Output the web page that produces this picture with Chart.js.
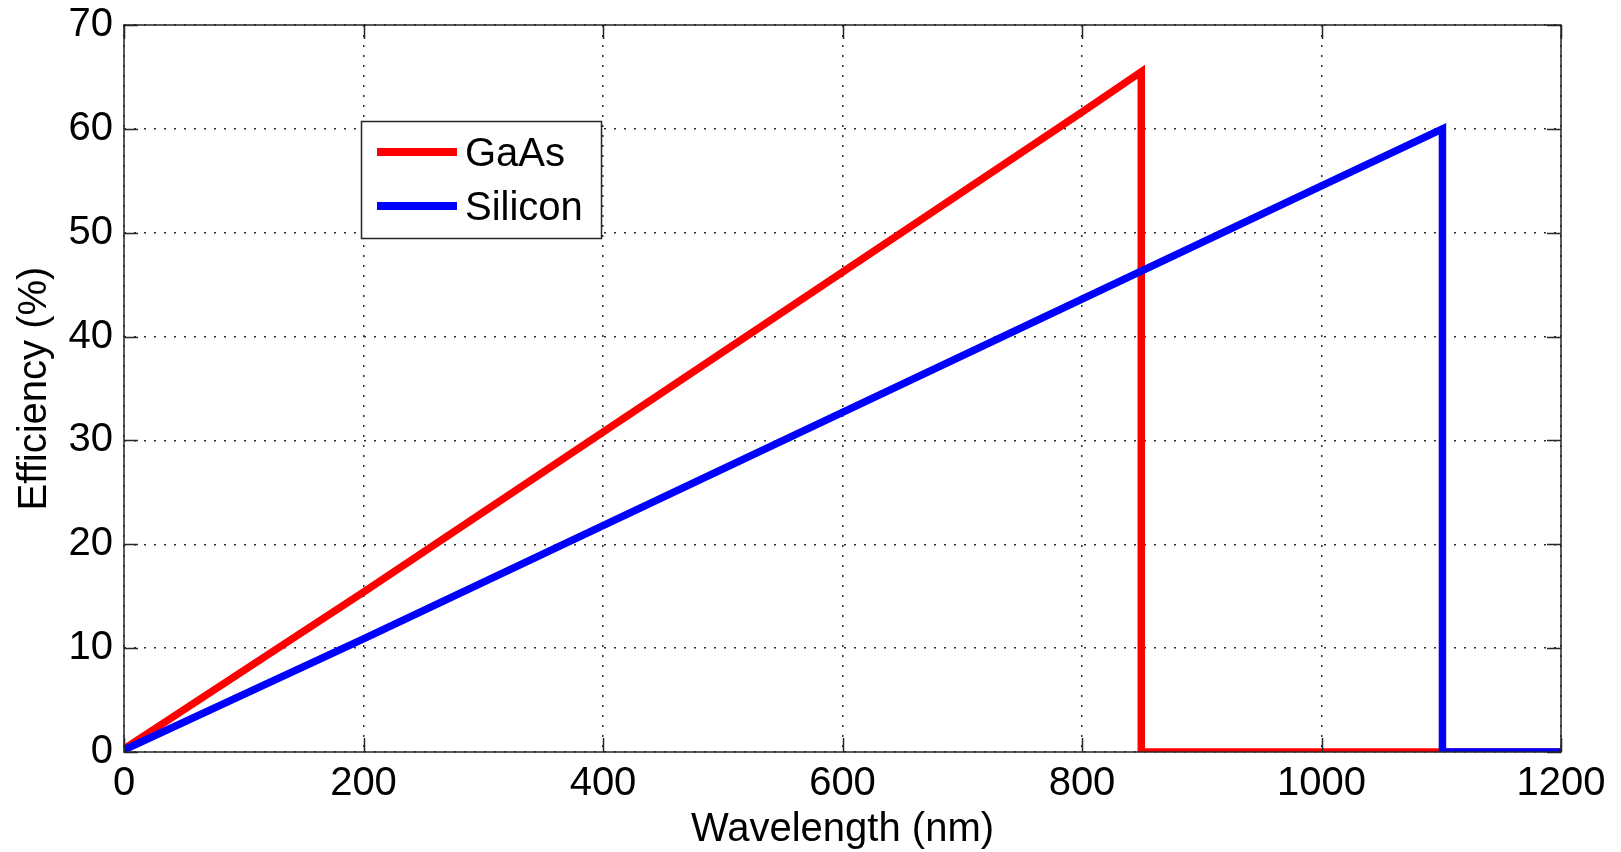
<!DOCTYPE html>
<html><head><meta charset="utf-8">
<script src="https://cdn.jsdelivr.net/npm/chart.js@4/dist/chart.umd.min.js"></script>
<style>html,body{margin:0;padding:0;background:#fff;}canvas{display:block;}</style>
</head><body>
<canvas id="c" width="1621" height="852"></canvas>
<script>
// ---- data ----
const seriesNames = ['GaAs', 'Silicon'];
const gaasWavelength = [0, 200, 400, 600, 800, 849.5, 849.5, 1200];
const gaasEfficiency = [0.3, 15.4, 30.8, 46.2, 61.6, 65.5, 0, 0];
const siliconWavelength = [0, 200, 400, 600, 800, 1000, 1101, 1101, 1200];
const siliconEfficiency = [0.2, 10.9, 21.8, 32.7, 43.6, 54.5, 60, 0, 0];
const xTickLabels = ['0', '200', '400', '600', '800', '1000', '1200'];
const yTickLabels = ['0', '10', '20', '30', '40', '50', '60', '70'];
const xTitle = 'Wavelength (nm)';
const yTitle = 'Efficiency (%)';
const seriesColors = ['#ff0000', '#0000ff'];

const FONT = '"Liberation Sans", Arial, Helvetica, sans-serif';
const toPts = (xs, ys) => xs.map((x, i) => ({x: x, y: ys[i]}));

const framePlugin = {
  id: 'frame',
  afterDraw(chart) {
    const ctx = chart.ctx;
    const a = chart.chartArea;
    const xs = chart.scales.x, ys = chart.scales.y;
    const tl = 14;
    ctx.save();
    ctx.strokeStyle = '#262626';
    ctx.lineWidth = 1.5;
    ctx.beginPath();
    xTickLabels.forEach(t => {
      const px = Math.round(xs.getPixelForValue(Number(t))) + 0.5;
      ctx.moveTo(px, a.bottom); ctx.lineTo(px, a.bottom - tl);
      ctx.moveTo(px, a.top); ctx.lineTo(px, a.top + tl);
    });
    yTickLabels.forEach(t => {
      const py = Math.round(ys.getPixelForValue(Number(t))) + 0.5;
      ctx.moveTo(a.left, py); ctx.lineTo(a.left + tl, py);
      ctx.moveTo(a.right, py); ctx.lineTo(a.right - tl, py);
    });
    ctx.stroke();
    ctx.strokeRect(a.left, a.top, a.right - a.left, a.bottom - a.top);

    // axis titles
    ctx.fillStyle = '#000';
    ctx.font = '40px ' + FONT;
    ctx.textAlign = 'center';
    ctx.textBaseline = 'alphabetic';
    ctx.fillText(xTitle, (a.left + a.right) / 2, 841);
    ctx.save();
    ctx.translate(46, (a.top + a.bottom) / 2);
    ctx.rotate(-Math.PI / 2);
    ctx.fillText(yTitle, 0, 0);
    ctx.restore();

    // legend
    const bx = 361.5, by = 121.5, bw = 240, bh = 117;
    ctx.fillStyle = '#fff';
    ctx.fillRect(bx, by, bw, bh);
    ctx.strokeStyle = '#262626';
    ctx.lineWidth = 1.5;
    ctx.strokeRect(bx, by, bw, bh);
    const rows = [152, 206];
    chart.data.datasets.forEach((ds, i) => {
      const k = seriesNames.indexOf(ds.label);
      const y = rows[k];
      ctx.strokeStyle = ds.borderColor;
      ctx.lineWidth = 8;
      ctx.beginPath();
      ctx.moveTo(377, y); ctx.lineTo(457, y);
      ctx.stroke();
      ctx.fillStyle = '#000';
      ctx.textAlign = 'left';
      ctx.fillText(ds.label, 465, y + 14);
    });
    ctx.restore();
  }
};

new Chart(document.getElementById('c'), {
  type: 'scatter',
  data: {
    datasets: [
      {label: seriesNames[0], data: toPts(gaasWavelength, gaasEfficiency), showLine: true,
       borderColor: seriesColors[0], backgroundColor: seriesColors[0], borderWidth: 7.5,
       pointRadius: 0, tension: 0, order: 2, clip: 0, borderJoinStyle: 'miter'},
      {label: seriesNames[1], data: toPts(siliconWavelength, siliconEfficiency), showLine: true,
       borderColor: seriesColors[1], backgroundColor: seriesColors[1], borderWidth: 7.5,
       pointRadius: 0, tension: 0, order: 1, clip: 0, borderJoinStyle: 'miter'}
    ]
  },
  options: {
    responsive: false,
    animation: false,
    events: [],
    layout: {padding: {top: 25, right: 60, left: 0, bottom: 0}},
    plugins: {legend: {display: false}, tooltip: {enabled: false}, title: {display: false}},
    scales: {
      x: {
        type: 'linear', min: 0, max: 1200,
        afterFit: s => { s.height = 100; },
        afterBuildTicks: s => { s.ticks = xTickLabels.map(v => ({value: Number(v)})); },
        ticks: {font: {family: FONT, size: 40}, color: '#000', padding: 8, maxRotation: 0, autoSkip: false,
                callback: v => String(v)},
        grid: {color: '#2a2a2a', lineWidth: 1.5, drawTicks: false},
        border: {display: false, dash: [2, 8]}
      },
      y: {
        type: 'linear', min: 0, max: 70,
        afterFit: s => { s.width = 124; },
        afterBuildTicks: s => { s.ticks = yTickLabels.map(v => ({value: Number(v)})); },
        ticks: {font: {family: FONT, size: 40, lineHeight: 0.6}, color: '#000', padding: 11, autoSkip: false,
                callback: v => String(v)},
        grid: {color: '#2a2a2a', lineWidth: 1.5, drawTicks: false},
        border: {display: false, dash: [2, 8]}
      }
    }
  },
  plugins: [framePlugin]
});
</script>
</body></html>
